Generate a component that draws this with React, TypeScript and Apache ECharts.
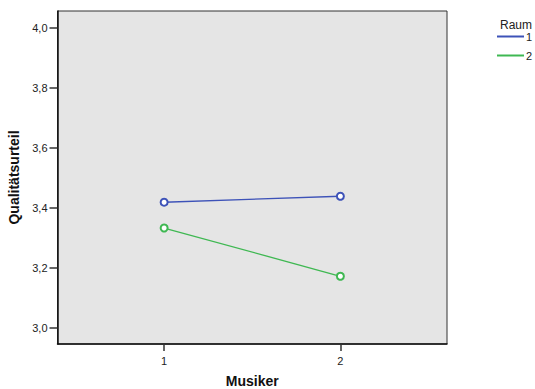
import React, { useEffect, useRef } from "react";
import * as echarts from "echarts";

const musiker = [1, 2];
const raum1 = [3.419, 3.439];
const raum2 = [3.333, 3.172];
const yTicks = [3.0, 3.2, 3.4, 3.6, 3.8, 4.0];
const seriesNames = ["1", "2"];

export default function App() {
  const ref = useRef<HTMLDivElement>(null);
  useEffect(() => {
    if (!ref.current) return;
    const chart = echarts.init(ref.current, null, { renderer: "svg" });
    const font = "'Liberation Sans', Arial, sans-serif";
    chart.setOption({
      animation: false,
      backgroundColor: "#ffffff",
      textStyle: { fontFamily: font },
      title: {
        text: "Raum",
        left: 500,
        top: 18,
        padding: 0,
        textStyle: { fontSize: 12, fontWeight: "normal", color: "#222", fontFamily: font, lineHeight: 14 },
      },
      legend: {
        orient: "vertical",
        left: 497,
        top: 31,
        padding: 0,
        itemWidth: 27,
        itemHeight: 2,
        itemGap: 8,
        icon: "rect",
        data: seriesNames,
        textStyle: { fontSize: 11, color: "#222", padding: [0, 0, 0, -3], fontFamily: font },
      },
      grid: {
        left: 57.5,
        right: 88,
        top: 11,
        bottom: 45,
        containLabel: false,
        outerBoundsMode: "none",
        show: true,
        backgroundColor: "#e5e5e5",
        borderColor: "#333",
        borderWidth: 1,
      },
      xAxis: {
        type: "value",
        min: 0.395,
        max: 2.605,
        name: "Musiker",
        nameLocation: "middle",
        nameGap: 30,
        nameTextStyle: { fontSize: 14, fontWeight: "bold", color: "#111", fontFamily: font },
        axisLine: { show: true, lineStyle: { color: "#111", width: 1.5 } },
        axisTick: { show: true, inside: false, length: 7, customValues: musiker, lineStyle: { color: "#333", width: 1.5 } },
        axisLabel: { customValues: musiker, fontSize: 11, color: "#222", margin: 11, formatter: (v: number) => String(v) },
        splitLine: { show: false },
      },
      yAxis: {
        type: "value",
        min: 2.946,
        max: 4.057,
        name: "Qualitätsurteil",
        nameLocation: "middle",
        nameGap: 32,
        nameTextStyle: { fontSize: 14, fontWeight: "bold", color: "#111", fontFamily: font },
        axisLine: { show: true, lineStyle: { color: "#111", width: 1.5 } },
        axisTick: { show: true, inside: false, length: 8, customValues: yTicks, lineStyle: { color: "#333", width: 1.5 } },
        axisLabel: {
          customValues: yTicks,
          fontSize: 11,
          color: "#222",
          margin: 10,
          formatter: (v: number) => v.toFixed(1).replace(".", ","),
        },
        splitLine: { show: false },
      },
      series: [
        {
          name: seriesNames[0],
          type: "line",
          data: musiker.map((m, i) => [m, raum1[i]]),
          symbol: "emptyCircle",
          symbolSize: 7,
          color: "#3d52b8",
          lineStyle: { width: 1.3, color: "#3d52b8" },
          itemStyle: { color: "#3d52b8", borderWidth: 1.3 },
        },
        {
          name: seriesNames[1],
          type: "line",
          data: musiker.map((m, i) => [m, raum2[i]]),
          symbol: "emptyCircle",
          symbolSize: 7,
          color: "#3fb852",
          lineStyle: { width: 1.3, color: "#3fb852" },
          itemStyle: { color: "#3fb852", borderWidth: 1.3 },
        },
      ],
    });
    return () => chart.dispose();
  }, []);
  return (
    <div
      ref={ref}
      style={{ position: "absolute", left: 0, top: 0, width: 535, height: 389 }}
    />
  );
}
